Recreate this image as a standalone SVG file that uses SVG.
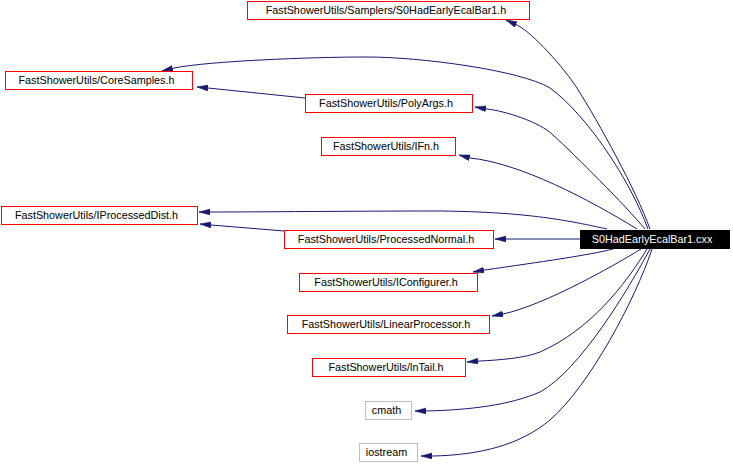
<svg xmlns="http://www.w3.org/2000/svg" width="733" height="464" viewBox="0 0 733 464">
<style>
.n rect{fill:#fff;stroke:#ff0000;stroke-width:1}
.n.g rect{stroke:#bfbfbf}
.n text{font-family:"Liberation Sans",Arial,sans-serif;font-size:10.8px;fill:#000;text-anchor:middle}
#cxx rect{fill:#000;stroke:#000}
#cxx text{fill:#fff}
#edges path{fill:none;stroke:#191970;stroke-width:1;marker-end:url(#ah)}
</style>
<defs>
<marker id="ah" markerUnits="userSpaceOnUse" markerWidth="12" markerHeight="7" refX="11" refY="3" orient="auto">
<path d="M0,0 L11,3 L0,6 z" fill="#191970" stroke="#191970" stroke-width="0.5"/>
</marker>
</defs>
<rect width="733" height="464" fill="#fff"/>
<g id="edges">
<path d="M650,229 C636,190 599,123 577,88 C564,68 533,33 517,25 L506,20"/>
<path d="M648,229 C630,180 587,115 550,88 C520,70 420,57 367,57 C310,57 210,61 174,68 L162,71"/>
<path d="M645,229 C625,205 575,155 553,135 C540,122 505,111 487,109 L475,107"/>
<path d="M637,229 C590,200 520,163 470,158 L459,155"/>
<path d="M607,229 C570,221 530,212 440,211 C350,211 260,212 211,212 L199,212"/>
<path d="M580,239 L495,239"/>
<path d="M305,98 L208,88 L197,87"/>
<path d="M284,231 L211,225 L200,224"/>
<path d="M613,249 C590,255 540,262 485,270 L473,272"/>
<path d="M641,249 C615,265 545,305 503,314 L492,316"/>
<path d="M647,249 C625,285 590,330 540,352 C525,358 500,360 480,361 L467,362"/>
<path d="M650,249 C628,290 580,370 540,392 C510,405 470,410 426,411 L415,411"/>
<path d="M652,249 C635,300 590,385 550,420 C520,445 480,455 433,456 L421,456"/>
</g>
<g id="n1" class="n"><rect x="247.5" y="1.5" width="282" height="18"/><text x="386" y="14">FastShowerUtils/Samplers/S0HadEarlyEcalBar1.h</text></g>
<g id="n2" class="n"><rect x="5.5" y="71.5" width="187" height="18"/><text x="96.5" y="84">FastShowerUtils/CoreSamples.h</text></g>
<g id="n3" class="n"><rect x="305.5" y="94.5" width="167" height="18"/><text x="386" y="107">FastShowerUtils/PolyArgs.h</text></g>
<g id="n4" class="n"><rect x="321.5" y="137.5" width="134" height="18"/><text x="386" y="150">FastShowerUtils/IFn.h</text></g>
<g id="n5" class="n"><rect x="1.5" y="206.5" width="196" height="18"/><text x="96.5" y="219">FastShowerUtils/IProcessedDist.h</text></g>
<g id="n6" class="n"><rect x="284.5" y="230.5" width="209" height="18"/><text x="386" y="243">FastShowerUtils/ProcessedNormal.h</text></g>
<g id="cxx" class="n"><rect x="580.5" y="230.5" width="149" height="18"/><text x="652" y="243">S0HadEarlyEcalBar1.cxx</text></g>
<g id="n7" class="n"><rect x="299.5" y="273.5" width="178" height="18"/><text x="386" y="286">FastShowerUtils/IConfigurer.h</text></g>
<g id="n8" class="n"><rect x="287.5" y="315.5" width="202" height="18"/><text x="386" y="328">FastShowerUtils/LinearProcessor.h</text></g>
<g id="n9" class="n"><rect x="312.5" y="358.5" width="153" height="18"/><text x="386" y="371">FastShowerUtils/lnTail.h</text></g>
<g id="n10" class="n g"><rect x="365.5" y="401.5" width="46" height="18"/><text x="386.5" y="414">cmath</text></g>
<g id="n11" class="n g"><rect x="359.5" y="443.5" width="58" height="18"/><text x="386.5" y="456">iostream</text></g>
</svg>
